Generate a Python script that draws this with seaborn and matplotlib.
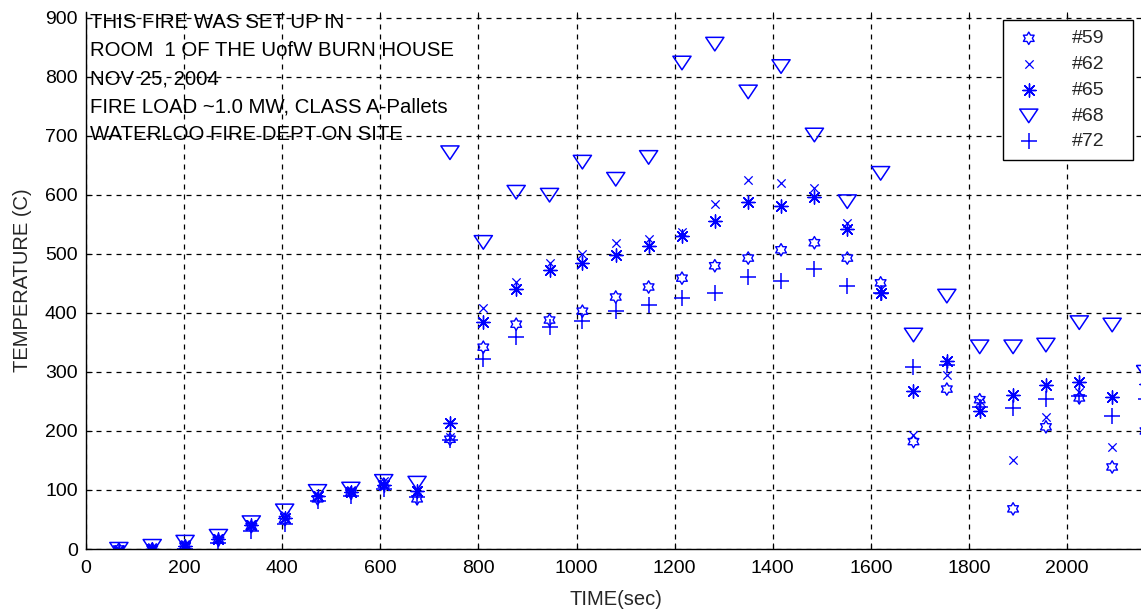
import numpy as np
import matplotlib
matplotlib.use("Agg")
import matplotlib.pyplot as plt
from matplotlib.path import Path
import seaborn as sns

# Sampling times (s) and thermocouple readings (deg C)
time_s = [67, 135, 202, 270, 337, 405, 472, 540, 607, 675, 742, 810, 877, 945,
          1012, 1080, 1147, 1215, 1282, 1350, 1417, 1485, 1552, 1620, 1687,
          1755, 1822, 1890, 1957, 2025, 2092, 2160]

tc59 = [0, 0, 5, 15, 38, 50, 85, 95, 110, 85, 186, 342, 381, 388, 403, 427,
        444, 459, 480, 493, 507, 519, 493, 451, 182, 271, 253, 68, 207, 256,
        139, 200]
tc62 = [0, 3, 8, 18, 42, 58, 92, 100, 115, 100, 190, 408, 453, 485, 500, 518,
        525, 538, 585, 626, 620, 612, 552, 440, 193, 295, 250, 151, 224, 266,
        173, 255]
tc65 = [-3, 0, 5, 17, 40, 52, 90, 97, 108, 98, 213, 385, 440, 473, 485, 498,
        513, 530, 556, 588, 582, 597, 542, 434, 267, 318, 234, 261, 278, 283,
        257, 280]
tc68 = [0, 5, 12, 22, 45, 65, 98, 102, 115, 112, 672, 520, 605, 600, 656, 627,
        664, 824, 856, 775, 818, 702, 589, 637, 363, 429, 343, 343, 346, 384,
        380, 300]
tc72 = [-5, -3, 0, 10, 30, 42, 82, 90, 102, 88, 185, 322, 359, 377, 386, 403,
        413, 425, 434, 461, 454, 474, 446, 434, 309, 312, 241, 239, 254, 260,
        225, 255]

labels = ["#59", "#62", "#65", "#68", "#72"]
x_ticks = [0, 200, 400, 600, 800, 1000, 1200, 1400, 1600, 1800, 2000]
y_ticks = [0, 100, 200, 300, 400, 500, 600, 700, 800, 900]

notes = ["THIS FIRE WAS SET UP IN",
         "ROOM  1 OF THE UofW BURN HOUSE",
         "NOV 25, 2004",
         "FIRE LOAD ~1.0 MW, CLASS A-Pallets",
         "WATERLOO FIRE DEPT ON SITE"]

sns.set_style("white")
plt.rcParams["font.family"] = ["Liberation Sans", "DejaVu Sans"]

# Marker shapes: six-pointed star outline and a wide downward triangle
ang = np.pi / 2 + np.arange(12) * np.pi / 6
rad = np.where(np.arange(12) % 2 == 0, 1.0, 1 / np.sqrt(3))
hexagram = Path(np.column_stack([rad * np.cos(ang), rad * np.sin(ang)]).tolist()
                + [[0, 1]], closed=True)
tri_down = Path([[-1, 0.72], [1, 0.72], [0, -0.78], [-1, 0.72]], closed=True)

fig = plt.figure(figsize=(11.41, 6.12), dpi=100)
ax = fig.add_axes([86 / 1141, 63 / 612, 1059.5 / 1141, 537 / 612])

blue = "#0000ff"
series = [tc59, tc62, tc65, tc68, tc72]
styles = [
    dict(marker=hexagram, s=80, facecolor="none", edgecolor=blue, linewidths=1.0),
    dict(marker="x", s=36, color=blue, linewidths=0.9),
    dict(marker=(8, 2, 0), s=90, color=blue, linewidths=1.0),
    dict(marker=tri_down, s=170, facecolor="none", edgecolor=blue, linewidths=1.1),
    dict(marker="+", s=130, color=blue, linewidths=1.1),
]
for vals, lab, st in zip(series, labels, styles):
    sns.scatterplot(x=time_s, y=vals, ax=ax, label=lab, **st)

ax.set_xlim(0, 2160)
ax.set_ylim(0, 910)
ax.set_xticks(x_ticks)
ax.set_yticks(y_ticks)
ax.tick_params(axis="both", direction="in", length=4, width=0.8,
               colors="black", labelsize=14, top=True, right=True,
               bottom=True, left=True)
ax.tick_params(axis="y", pad=6)
ax.tick_params(axis="x", pad=8)
ax.grid(True, color="black", linestyle=(0, (4, 4)), linewidth=0.9)
for side in ["left", "bottom"]:
    ax.spines[side].set_color("black")
    ax.spines[side].set_linewidth(1.0)
for side in ["top", "right"]:
    ax.spines[side].set_visible(False)

ax.set_xlabel("TIME(sec)", fontsize=14.5, labelpad=9)
ax.set_ylabel("TEMPERATURE (C)", fontsize=14.5, labelpad=9)

# Annotation block in the upper-left corner
line_px = [22, 51, 79, 107, 134]
for txt, py in zip(notes, line_px):
    ax.text(4 / 1059.5, (549 - py) / 537, txt, transform=ax.transAxes,
            fontsize=14.7, va="center", ha="left", color="black")

leg = ax.legend(loc="upper left",
                bbox_to_anchor=(917 / 1059.5, 0.5, 130 / 1059.5, 0.485),
                mode="expand", borderaxespad=0, frameon=True, fancybox=False,
                edgecolor="black", fontsize=14, handletextpad=1.4,
                labelspacing=0.42, borderpad=0.5, handlelength=1.65,
                scatterpoints=1)
leg.get_frame().set_linewidth(1.0)
leg.get_frame().set_alpha(1)

fig.savefig("out.png", dpi=100)
